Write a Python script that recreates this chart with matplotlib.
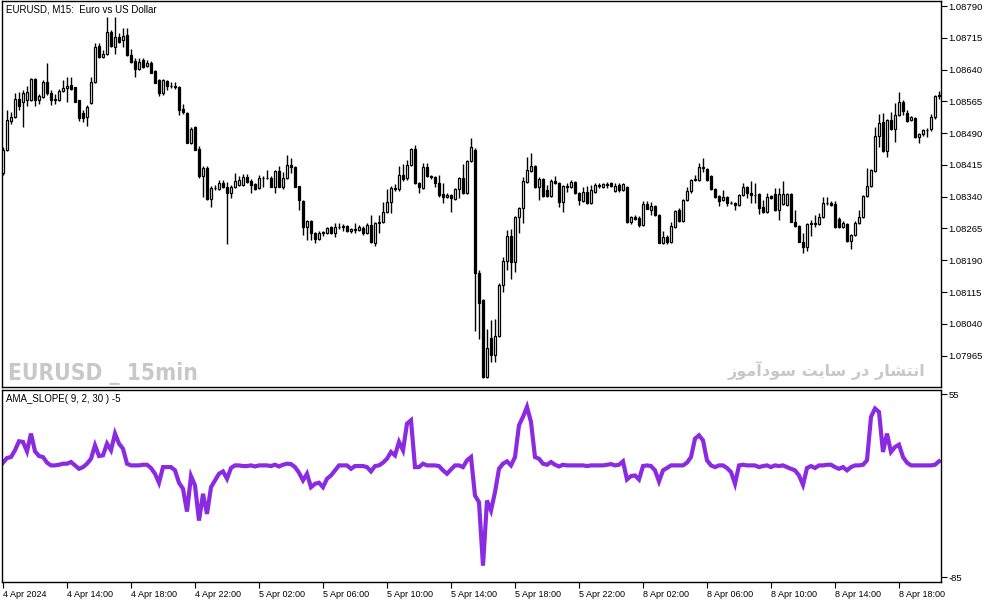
import numpy as np
import matplotlib
matplotlib.use("Agg")
import matplotlib.pyplot as plt
from matplotlib import font_manager as fm

# EURUSD M15, prices in points (1e-5), bar 0 = 4 Apr 2024 10:00
opens = [108396, 108450, 108519, 108528, 108570, 108563, 108568, 108568, 108618, 108568,
         108575, 108610, 108584, 108568, 108568, 108589, 108596, 108603, 108599, 108568,
         108538, 108528, 108561, 108610, 108696, 108670, 108677, 108729, 108693, 108717,
         108710, 108721, 108674, 108660, 108641, 108663, 108648, 108655, 108637, 108615,
         108584, 108613, 108601, 108601, 108599, 108547, 108538, 108467, 108504, 108453,
         108389, 108408, 108335, 108361, 108358, 108373, 108363, 108349, 108363, 108368,
         108368, 108387, 108377, 108370, 108361, 108384, 108384, 108384, 108363, 108401,
         108363, 108384, 108415, 108410, 108366, 108330, 108268, 108283, 108255, 108241,
         108255, 108255, 108268, 108255, 108268, 108268, 108271, 108260, 108264, 108262,
         108266, 108255, 108273, 108231, 108278, 108280, 108304, 108328, 108361, 108358,
         108391, 108384, 108415, 108453, 108373, 108361, 108410, 108389, 108387, 108373,
         108347, 108339, 108344, 108335, 108358, 108384, 108349, 108424, 108450, 108160,
         108097, 107915, 108007, 107967, 108012, 108132, 108188, 108248, 108186, 108292,
         108313, 108375, 108401, 108413, 108363, 108382, 108356, 108342, 108377, 108373,
         108328, 108366, 108363, 108375, 108349, 108330, 108351, 108325, 108351, 108368,
         108363, 108370, 108373, 108354, 108368, 108356, 108363, 108280, 108292, 108290,
         108273, 108323, 108309, 108318, 108297, 108231, 108245, 108233, 108268, 108309,
         108283, 108332, 108354, 108380, 108380, 108410, 108406, 108389, 108358, 108342,
         108332, 108339, 108325, 108325, 108321, 108344, 108363, 108349, 108344, 108347,
         108316, 108304, 108342, 108347, 108309, 108323, 108321, 108347, 108280, 108271,
         108233, 108221, 108276, 108278, 108276, 108292, 108325, 108325, 108323, 108288,
         108268, 108276, 108236, 108250, 108278, 108292, 108342, 108366, 108401, 108483,
         108516, 108448, 108521, 108500, 108533, 108563, 108538, 108521, 108526, 108481,
         108488, 108497, 108500, 108528, 108577]
highs = [108457, 108545, 108540, 108584, 108587, 108592, 108601, 108620, 108620, 108582,
         108615, 108655, 108592, 108582, 108594, 108615, 108622, 108622, 108599, 108568,
         108545, 108556, 108622, 108702, 108702, 108686, 108764, 108733, 108764, 108726,
         108738, 108738, 108688, 108667, 108667, 108667, 108663, 108660, 108639, 108618,
         108618, 108615, 108610, 108610, 108601, 108559, 108540, 108504, 108507, 108460,
         108413, 108413, 108366, 108368, 108380, 108380, 108375, 108368, 108396, 108389,
         108394, 108394, 108382, 108373, 108391, 108389, 108403, 108389, 108403, 108413,
         108398, 108439, 108432, 108413, 108366, 108332, 108285, 108285, 108257, 108260,
         108260, 108268, 108271, 108278, 108278, 108276, 108273, 108266, 108278, 108273,
         108271, 108278, 108297, 108280, 108297, 108328, 108358, 108366, 108370, 108413,
         108417, 108427, 108455, 108462, 108375, 108420, 108420, 108391, 108389, 108391,
         108373, 108349, 108347, 108361, 108387, 108417, 108427, 108479, 108455, 108167,
         108099, 108028, 108049, 108052, 108136, 108198, 108262, 108264, 108295, 108316,
         108387, 108434, 108443, 108415, 108387, 108384, 108368, 108382, 108389, 108375,
         108368, 108373, 108380, 108377, 108351, 108363, 108366, 108368, 108373, 108373,
         108373, 108375, 108375, 108373, 108373, 108373, 108366, 108295, 108297, 108295,
         108330, 108330, 108328, 108321, 108299, 108260, 108250, 108280, 108309, 108313,
         108335, 108363, 108382, 108391, 108420, 108432, 108408, 108391, 108361, 108344,
         108356, 108342, 108330, 108328, 108347, 108373, 108366, 108377, 108373, 108349,
         108332, 108349, 108344, 108361, 108361, 108377, 108349, 108349, 108309, 108273,
         108255, 108278, 108285, 108297, 108302, 108339, 108339, 108330, 108330, 108292,
         108283, 108278, 108252, 108283, 108309, 108344, 108408, 108406, 108504, 108535,
         108538, 108523, 108540, 108561, 108587, 108568, 108545, 108530, 108528, 108490,
         108500, 108502, 108535, 108580, 108589]
lows = [108391, 108448, 108512, 108526, 108545, 108504, 108554, 108566, 108554, 108559,
        108573, 108580, 108556, 108559, 108566, 108587, 108563, 108592, 108563, 108519,
        108516, 108507, 108559, 108608, 108667, 108667, 108674, 108693, 108677, 108703,
        108693, 108672, 108655, 108622, 108639, 108644, 108646, 108632, 108608, 108577,
        108580, 108592, 108596, 108594, 108533, 108535, 108467, 108464, 108450, 108384,
        108340, 108332, 108316, 108356, 108356, 108361, 108229, 108337, 108361, 108366,
        108366, 108373, 108349, 108356, 108358, 108363, 108382, 108363, 108349, 108363,
        108358, 108382, 108396, 108363, 108309, 108250, 108238, 108238, 108231, 108238,
        108248, 108252, 108252, 108245, 108264, 108260, 108257, 108255, 108255, 108259,
        108250, 108252, 108231, 108224, 108255, 108278, 108302, 108302, 108354, 108354,
        108377, 108380, 108413, 108370, 108349, 108358, 108387, 108382, 108363, 108339,
        108325, 108337, 108304, 108332, 108337, 108347, 108347, 108422, 108023, 108004,
        107913, 107913, 107950, 107950, 108009, 108115, 108167, 108146, 108162, 108255,
        108278, 108373, 108398, 108361, 108332, 108339, 108339, 108339, 108370, 108316,
        108304, 108351, 108361, 108347, 108321, 108328, 108323, 108323, 108349, 108361,
        108361, 108361, 108363, 108351, 108351, 108354, 108278, 108276, 108285, 108268,
        108271, 108311, 108297, 108295, 108231, 108229, 108229, 108231, 108266, 108280,
        108280, 108330, 108349, 108377, 108377, 108398, 108377, 108356, 108337, 108318,
        108330, 108318, 108323, 108309, 108318, 108342, 108337, 108325, 108325, 108299,
        108302, 108302, 108335, 108307, 108285, 108321, 108318, 108280, 108268, 108233,
        108207, 108212, 108248, 108268, 108273, 108290, 108321, 108318, 108266, 108266,
        108266, 108233, 108217, 108248, 108276, 108290, 108339, 108363, 108398, 108457,
        108446, 108434, 108497, 108469, 108530, 108533, 108516, 108519, 108479, 108467,
        108483, 108481, 108495, 108523, 108570]
closes = [108450, 108521, 108528, 108570, 108554, 108584, 108587, 108618, 108568, 108577,
          108610, 108584, 108568, 108570, 108589, 108596, 108601, 108594, 108563, 108526,
          108526, 108552, 108610, 108693, 108670, 108677, 108729, 108696, 108717, 108705,
          108719, 108674, 108658, 108641, 108658, 108646, 108655, 108632, 108608, 108584,
          108615, 108601, 108601, 108599, 108545, 108540, 108467, 108500, 108450, 108389,
          108408, 108335, 108361, 108361, 108373, 108363, 108349, 108363, 108377, 108380,
          108387, 108375, 108368, 108358, 108384, 108384, 108384, 108363, 108401, 108363,
          108384, 108415, 108410, 108363, 108332, 108268, 108283, 108255, 108241, 108255,
          108257, 108266, 108255, 108268, 108268, 108271, 108260, 108264, 108262, 108268,
          108255, 108273, 108233, 108278, 108280, 108304, 108328, 108361, 108358, 108391,
          108382, 108415, 108453, 108373, 108363, 108410, 108389, 108387, 108373, 108344,
          108339, 108344, 108337, 108358, 108384, 108349, 108424, 108457, 108160, 108090,
          107915, 107983, 107967, 108012, 108132, 108188, 108248, 108186, 108292, 108313,
          108377, 108403, 108413, 108363, 108382, 108342, 108342, 108377, 108373, 108328,
          108366, 108363, 108375, 108349, 108332, 108351, 108325, 108356, 108368, 108366,
          108370, 108368, 108366, 108366, 108356, 108370, 108280, 108292, 108288, 108273,
          108323, 108311, 108318, 108297, 108231, 108245, 108233, 108271, 108307, 108283,
          108332, 108354, 108380, 108382, 108410, 108408, 108380, 108358, 108339, 108330,
          108339, 108325, 108325, 108321, 108344, 108363, 108349, 108344, 108344, 108313,
          108304, 108339, 108337, 108309, 108347, 108347, 108347, 108280, 108271, 108233,
          108221, 108276, 108278, 108276, 108292, 108325, 108325, 108321, 108268, 108268,
          108278, 108236, 108250, 108278, 108292, 108342, 108366, 108403, 108483, 108514,
          108448, 108521, 108500, 108533, 108563, 108542, 108519, 108528, 108481, 108488,
          108497, 108497, 108528, 108577, 108580]

# AMA_SLOPE(9, 2, 30) values, one per bar
slope = [2.7, 6.3, 7.0, 12.2, 19.1, 18.6, 11.4, 25, 11.4, 7.8,
         7.0, 2.7, 0.6, 0.6, 1.1, 1.9, 1.9, 3.2, 0.6, -2,
         -0.7, 1.9, 5.7, 16, 7.8, 8.3, 17.3, 12.2, 25, 17.3,
         13.4, 1.9, 0.6, 0.6, 0.6, 1.1, 1.1, -1.4, -5.8, -12.7,
         -0.7, -0.7, -0.7, -3.2, -12.7, -17.3, -34.8, -7.6, -14.8, -41.7,
         -21.2, -36.6, -16.1, -10.9, -5.8, -4, -9.6, -1.4, 0.6, 0.6,
         0.1, 0.1, 0.6, -0.2, 0.6, 0.6, 0.6, 0.1, 1.1, -0.2,
         1.1, 1.9, 1.6, -0.7, -5, -10.9, -5.8, -16.1, -13.5, -12.7,
         -16.1, -9.6, -7.1, -3.2, 0.6, 0.6, 0.6, -2, 0.1, 0.1,
         0.1, -0.7, -4, 0.1, 0.6, 2.7, 5.7, 10.9, 8.3, 18.6,
         12.2, 32.6, 35.2, -0.7, -0.7, 1.9, 0.6, 0.6, 0.6, 0.1,
         -3.2, -5.8, -2.5, 0.6, 0.6, -0.7, 4.5, 7.0, -22.5, -27.6,
         -76.3, -26.3, -34, -19.9, -2, 1.9, 3.7, 0.6, 7, 31.4,
         37.8, 45.5, 33.9, 7.0, 5.7, 1.9, 1.1, 3.2, 1.1, -0.2,
         1.1, 0.6, 0.6, 0.6, 0.6, 0.6, 0.1, 0.6, 0.6, 0.6,
         0.6, 1.1, 1.6, 0.6, 1.1, 3.7, -10.2, -7.6, -7.1, -10.2,
         0.1, 0.6, 0.1, -3.2, -11.7, -3.2, -1.4, 0.6, 0.6, 0.6,
         0.6, 2.7, 7, 21.1, 23.7, 19.8, 4.5, 0.6, -0.7, 0.6,
         0.6, -1.4, -4.5, -13.5, 0.6, 1.1, 0.6, 0.6, 0.6, -0.7,
         0.1, 0.6, -0.7, 0.6, 0.1, 0.6, -0.7, -2, -3.2, -7.1,
         -14.3, -1.4, 0.1, -1.4, 0.6, 0.6, 1.1, 1.1, -0.7, -2,
         -0.7, -3.2, -0.7, 0.6, 0.6, 1.1, 4.5, 37.8, 44.2, 41.6,
         10.9, 25, 10.9, 14.7, 16.5, 7.0, 2.7, 0.6, 0.6, 0.6,
         0.6, 0.6, 0.6, 1.1, 3.7]

price_ticks = [1.07965, 1.08040, 1.08115, 1.08190, 1.08265, 1.08340, 1.08415,
               1.08490, 1.08565, 1.08640, 1.08715, 1.08790]
time_labels = ["4 Apr 2024", "4 Apr 14:00", "4 Apr 18:00", "4 Apr 22:00", "5 Apr 02:00",
               "5 Apr 06:00", "5 Apr 10:00", "5 Apr 14:00", "5 Apr 18:00", "5 Apr 22:00",
               "8 Apr 02:00", "8 Apr 06:00", "8 Apr 10:00", "8 Apr 14:00", "8 Apr 18:00"]
time_label_bars = list(range(0, 225, 16))

o = np.array(opens) / 1e5
h = np.array(highs) / 1e5
l = np.array(lows) / 1e5
c = np.array(closes) / 1e5
x = np.arange(len(o))

plt.rcParams['font.family'] = ['Liberation Sans', 'DejaVu Sans']

W, H = 994, 603
fig = plt.figure(figsize=(W / 100, H / 100), dpi=100)


def box(left, top, right, bottom):
    return [left / W, 1 - bottom / H, (right - left) / W, (bottom - top) / H]


ax = fig.add_axes(box(2, 1, 941, 386.5))
ax2 = fig.add_axes(box(2, 389.5, 941, 582))

# candles
ax.vlines(x, l, h, color="black", lw=1, zorder=2)
up = c >= o
body = np.maximum(np.abs(c - o), 0.000006)
ax.bar(x[up], body[up], bottom=o[up], width=0.62, facecolor="white",
       edgecolor="black", lw=0.9, zorder=3)
ax.bar(x[~up], body[~up], bottom=c[~up], width=0.62, facecolor="black",
       edgecolor="black", lw=0.9, zorder=3)

ax.set_xlim(-0.25, 234.5)
ax.set_ylim(1.07892, 1.08802)
ax.set_xticks([])
ax.yaxis.tick_right()
ax.set_yticks(price_ticks)
ax.set_yticklabels(["%.5f" % p for p in price_ticks])
ax.tick_params(axis="y", direction="out", length=4, width=0.8, labelsize=6.8, pad=1.5)

ax.text(0.004, 0.99, "EURUSD, M15:  Euro vs US Dollar", transform=ax.transAxes,
        fontsize=7, va="top", ha="left")

# watermarks: look for a condensed bold face, fall back to a plain bold one
narrow = None
for f in fm.fontManager.ttflist:
    tag = (f.name + " " + f.fname).lower()
    if ("narrow" in tag or "condensed" in tag) and "bold" in tag and "italic" not in tag \
            and "oblique" not in tag:
        narrow = f.fname
        break
if narrow:
    wm_font = fm.FontProperties(fname=narrow)
else:
    wm_font = fm.FontProperties(family="Roboto", weight="bold")

renderer = fig.canvas.get_renderer()


def fit_text(xpos, ypos, s, width_px, size, **kw):
    t = fig.text(xpos / W, 1 - ypos / H, s, va="baseline", **kw)
    t.set_fontsize(size)
    w = t.get_window_extent(renderer).width
    t.set_fontsize(size * width_px / w)
    return t


fit_text(8, 380, "EURUSD _ 15min", 189, 20, fontproperties=wm_font,
         color="#c8c8c8", ha="left")
fa = "\uFEAF\uFEEE\uFEE3\uFE81\uFEA9\uFEEE\uFEB3 \uFE96\uFEF3\uFE8E\uFEB3 \uFEAD\uFEA9 \uFEAD\uFE8E\uFEB8\uFE98\uFEE7\uFE8D"
fit_text(925, 376, fa, 197, 13, fontweight="bold", color="#c8c8c8",
         family=["DejaVu Sans"], ha="right")

# indicator
ax2.plot(x, slope, color="#8a2be2", lw=3.0, solid_joinstyle="miter")
ax2.set_xlim(-0.25, 234.5)
ax2.set_ylim(-88.8, 58.8)
ax2.yaxis.tick_right()
ax2.set_yticks([55, -85])
ax2.set_yticklabels(["55", "-85"])
ax2.tick_params(axis="y", direction="out", length=4, width=0.8, labelsize=6.8, pad=1.5)
ax2.set_xticks(time_label_bars)
ax2.set_xticklabels(time_labels)
ax2.tick_params(axis="x", direction="out", length=4, width=0.8, labelsize=6.5, pad=1.5)
for lbl in ax2.get_xticklabels():
    lbl.set_ha("left")
ax2.text(0.004, 0.975, "AMA_SLOPE( 9, 2, 30 ) -5", transform=ax2.transAxes,
         fontsize=7, va="top", ha="left")

for a in (ax, ax2):
    for s in a.spines.values():
        s.set_linewidth(1)
        s.set_color("black")

fig.savefig("out.png", dpi=100)
